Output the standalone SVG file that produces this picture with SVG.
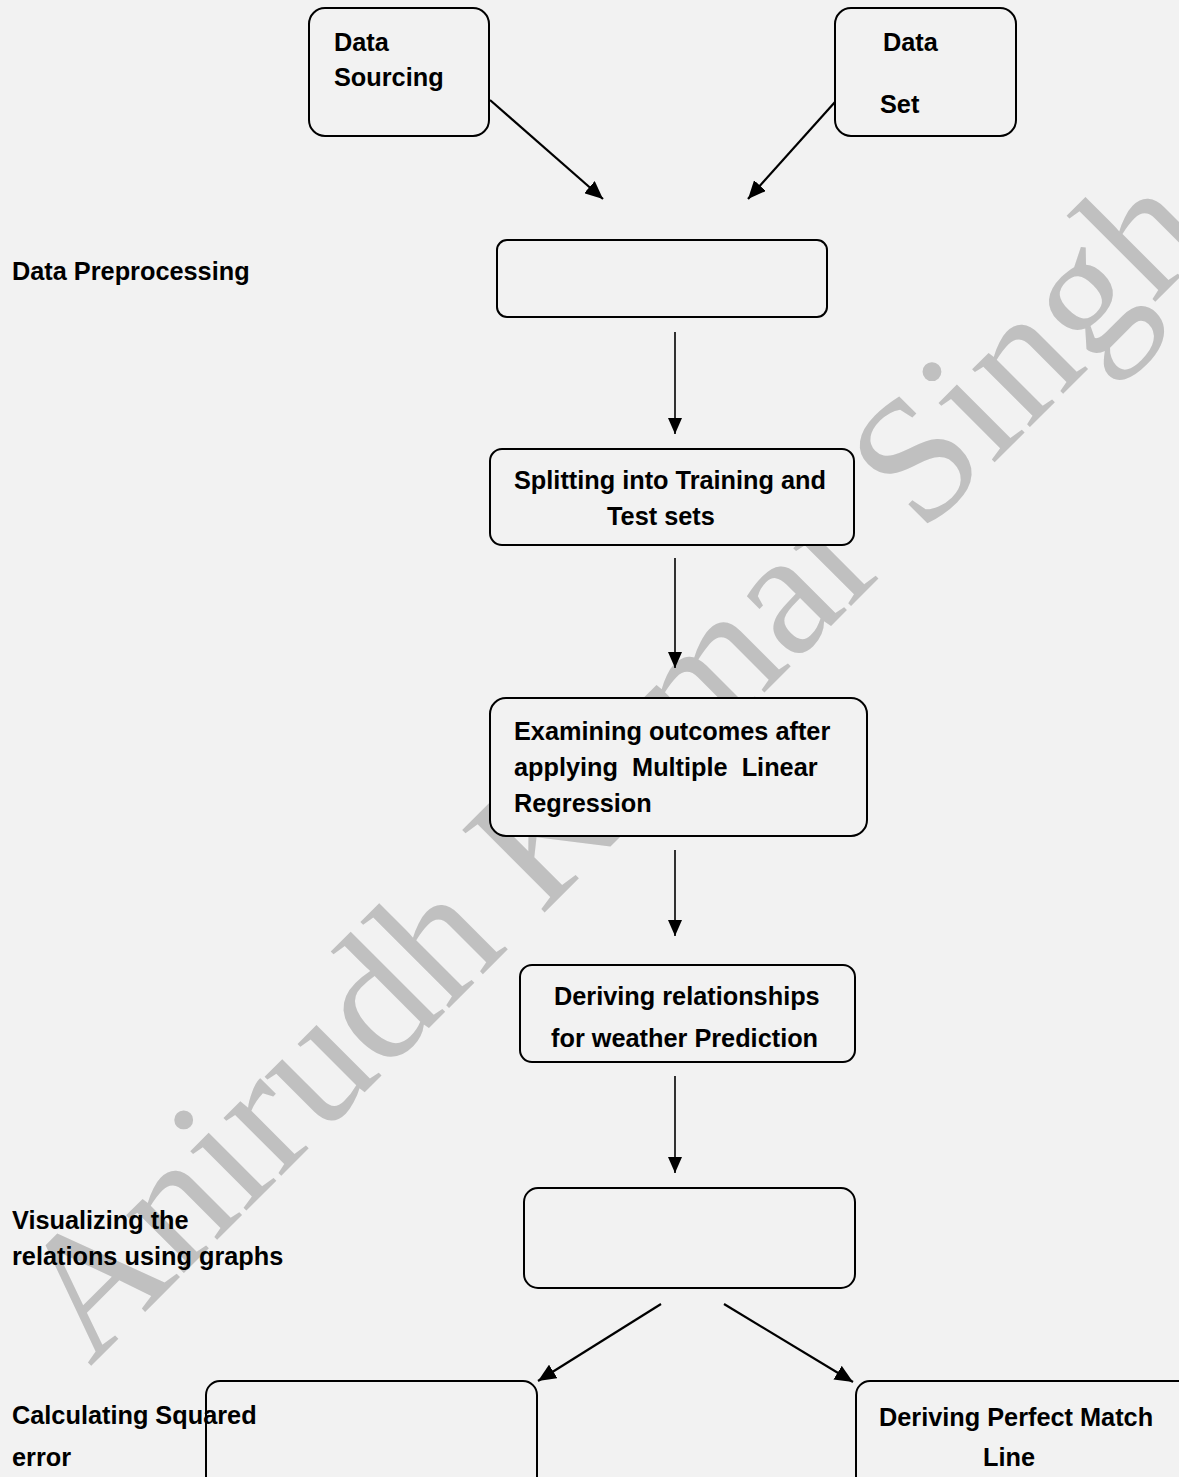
<svg xmlns="http://www.w3.org/2000/svg" width="1179" height="1477" viewBox="0 0 1179 1477">
<style>
.bg{fill:#f2f2f2}
.box{fill:#f2f2f2;stroke:#000;stroke-width:2}
.t{font-family:"Liberation Sans",Arial,sans-serif;font-weight:bold;font-size:25.3px;fill:#000;white-space:pre}
.c{fill:none;stroke:#000;stroke-width:1.6}
.d{fill:none;stroke:#000;stroke-width:2.2}
.wm{font-family:"Liberation Serif","Times New Roman",serif;font-size:178px;fill:#c0c0c0}
</style>
<defs>
<marker id="ah" viewBox="0 0 16 14" refX="16" refY="7" markerWidth="16" markerHeight="14" markerUnits="userSpaceOnUse" orient="auto">
<path d="M0,0 L16,7 L0,14 Z" fill="#000"/>
</marker>
<marker id="ahb" viewBox="0 0 18 16" refX="18" refY="8" markerWidth="18" markerHeight="16" markerUnits="userSpaceOnUse" orient="auto">
<path d="M0,0 L18,8 L0,16 Z" fill="#000"/>
</marker>
</defs>
<rect class="bg" x="0" y="0" width="1179" height="1477"/>
<text class="wm" transform="translate(90,1367) rotate(-45)">Anirudh Kumar Singh</text>

<g id="connectors">
<line class="d" x1="490" y1="100" x2="603" y2="199" marker-end="url(#ahb)"/>
<line class="d" x1="835" y1="102" x2="748" y2="199" marker-end="url(#ahb)"/>
<line class="c" x1="675" y1="332" x2="675" y2="434" marker-end="url(#ah)"/>
<line class="c" x1="675" y1="558" x2="675" y2="668" marker-end="url(#ah)"/>
<line class="c" x1="675" y1="850" x2="675" y2="936" marker-end="url(#ah)"/>
<line class="c" x1="675" y1="1076" x2="675" y2="1173" marker-end="url(#ah)"/>
<line class="d" x1="661" y1="1304" x2="538" y2="1381" marker-end="url(#ahb)"/>
<line class="d" x1="724" y1="1304" x2="853" y2="1382" marker-end="url(#ahb)"/>
</g>

<g id="n-data-sourcing">
<rect class="box" x="309" y="8" width="180" height="128" rx="16"/>
<text class="t" x="334" y="51">Data</text>
<text class="t" x="334" y="86">Sourcing</text>
</g>
<g id="n-data-set">
<rect class="box" x="835" y="8" width="181" height="128" rx="16"/>
<text class="t" x="883" y="51">Data</text>
<text class="t" x="880" y="113">Set</text>
</g>
<g id="n-preprocessing">
<rect class="box" x="497" y="240" width="330" height="77" rx="10"/>
</g>
<g id="n-splitting">
<rect class="box" x="490" y="449" width="364" height="96" rx="12"/>
<text class="t" x="514" y="489">Splitting into Training and</text>
<text class="t" x="607" y="525">Test sets</text>
</g>
<g id="n-examining">
<rect class="box" x="490" y="698" width="377" height="138" rx="16"/>
<text class="t" x="514" y="740">Examining outcomes after</text>
<text class="t" x="514" y="776">applying  Multiple  Linear</text>
<text class="t" x="514" y="812">Regression</text>
</g>
<g id="n-deriving-rel">
<rect class="box" x="520" y="965" width="335" height="97" rx="12"/>
<text class="t" x="554" y="1005">Deriving relationships</text>
<text class="t" x="551" y="1047">for weather Prediction</text>
</g>
<g id="n-visualizing">
<rect class="box" x="524" y="1188" width="331" height="100" rx="14"/>
</g>
<g id="n-squared">
<rect class="box" x="206" y="1381" width="331" height="110" rx="14"/>
</g>
<g id="n-perfect">
<rect class="box" x="856" y="1381" width="340" height="110" rx="14"/>
<text class="t" x="879" y="1426">Deriving Perfect Match</text>
<text class="t" x="983" y="1466">Line</text>
</g>

<g id="labels">
<text class="t" x="12" y="280">Data Preprocessing</text>
<text class="t" x="12" y="1229">Visualizing the</text>
<text class="t" x="12" y="1265">relations using graphs</text>
<text class="t" x="12" y="1424">Calculating Squared</text>
<text class="t" x="12" y="1466">error</text>
</g>
</svg>
